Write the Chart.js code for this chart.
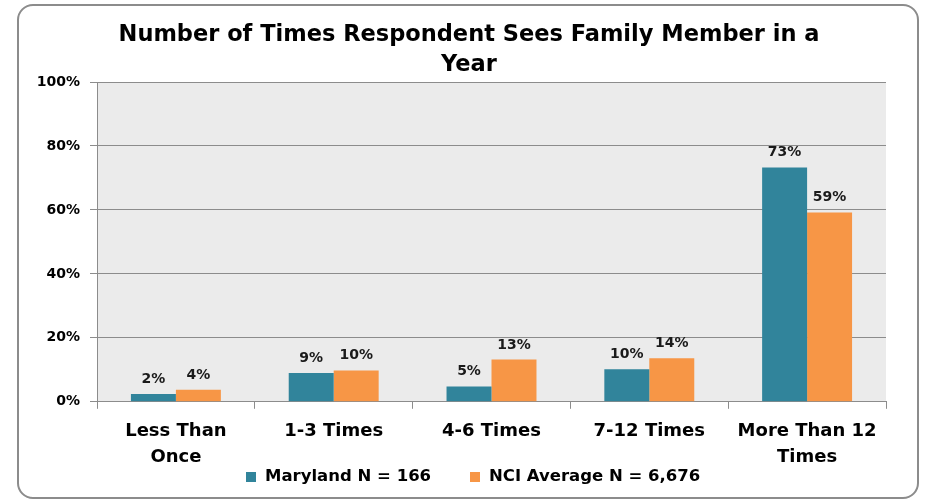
<!DOCTYPE html>
<html>
<head>
<meta charset="utf-8">
<script src="https://cdn.jsdelivr.net/npm/chart.js@4"></script>
<style>
    html, body { margin: 0; padding: 0; background: #fff; }
    body { font-family: 'DejaVu Sans', sans-serif; }
    #frame {
        position: absolute; left: 17px; top: 4px; width: 902px; height: 495px;
        border: 2px solid #8c8c8c; border-radius: 16px; box-sizing: border-box;
    }
    #wrap { position: absolute; left: 0; top: 0; width: 926px; height: 501px; }
    #title {
        position: absolute; left: 18px; top: 18px; width: 902px;
        text-align: center; font-weight: bold; font-size: 22.5px; line-height: 30px; color: #000;
    }
    .legend-item {
        position: absolute; top: 466px; height: 20px; line-height: 20px;
        font-weight: bold; font-size: 16.5px; color: #000; white-space: nowrap;
    }
    .legend-item i {
        display: inline-block; width: 10px; height: 10px; margin-right: 9px; vertical-align: -1px;
    }
</style>
</head>
<body>
<div id="frame"></div>
<div id="wrap"><canvas id="chart" width="926" height="501"></canvas></div>
<div id="title"></div>
<div id="legend"></div>
<script>
const categories = [['Less Than', 'Once'], '1-3 Times', '4-6 Times', '7-12 Times', ['More Than 12', 'Times']];
const marylandValues = [2.4, 9.0, 4.8, 10.2, 73.3];
const nciValues = [3.8, 9.8, 13.2, 13.6, 59.2];
const marylandLabels = ['2%', '9%', '5%', '10%', '73%'];
const nciLabels = ['4%', '10%', '13%', '14%', '59%'];
const seriesNames = ['Maryland N = 166', 'NCI Average N = 6,676'];
const titleLines = ['Number of Times Respondent Sees Family Member in a', 'Year'];

const FONT = "'DejaVu Sans', sans-serif";
const COLORS = ['#31849b', '#f79646'];

// title and legend as html text
document.getElementById('title').innerHTML = titleLines.join('<br>');
const legendLeft = [246, 470];
document.getElementById('legend').innerHTML = seriesNames.map((name, i) =>
    `<div class="legend-item" style="left:${legendLeft[i]}px"><i style="background:${COLORS[i]}"></i>${name}</div>`
).join('');

// grey plot background
const plotBackground = {
    id: 'plotBackground',
    beforeDraw(chart) {
        const { ctx, chartArea: a } = chart;
        ctx.save();
        ctx.fillStyle = '#ebebeb';
        ctx.fillRect(a.left, a.top, a.right - a.left, a.bottom - a.top);
        ctx.restore();
    }
};

// value labels above the bars
const barLabels = {
    id: 'barLabels',
    afterDatasetsDraw(chart) {
        const ctx = chart.ctx;
        const texts = [marylandLabels, nciLabels];
        ctx.save();
        ctx.font = 'bold 14px ' + FONT;
        ctx.fillStyle = '#1a1a1a';
        ctx.textAlign = 'center';
        ctx.textBaseline = 'alphabetic';
        chart.data.datasets.forEach((ds, i) => {
            chart.getDatasetMeta(i).data.forEach((bar, j) => {
                ctx.fillText(texts[i][j], bar.x, bar.y - 11);
            });
        });
        ctx.restore();
    }
};

new Chart(document.getElementById('chart'), {
    type: 'bar',
    data: {
        labels: categories,
        datasets: [
            { label: seriesNames[0], data: marylandValues, backgroundColor: COLORS[0] },
            { label: seriesNames[1], data: nciValues, backgroundColor: COLORS[1] }
        ]
    },
    options: {
        responsive: false,
        animation: false,
        layout: { padding: { top: 82, right: 40, bottom: 22, left: 0 } },
        datasets: { bar: { categoryPercentage: 0.57, barPercentage: 1.0 } },
        plugins: {
            title: { display: false },
            legend: { display: false },
            tooltip: { enabled: false }
        },
        scales: {
            x: {
                grid: { drawOnChartArea: false, drawTicks: true, tickLength: 7, color: '#8c8c8c', offset: true },
                border: { color: '#8c8c8c' },
                ticks: {
                    color: '#000',
                    font: { family: FONT, size: 18, weight: 'bold', lineHeight: 1.45 },
                    padding: 9,
                    maxRotation: 0,
                    autoSkip: false
                }
            },
            y: {
                min: 0,
                max: 100,
                afterFit(scale) { scale.width = 97; },
                grid: { color: '#8c8c8c', tickLength: 7 },
                border: { color: '#8c8c8c' },
                ticks: {
                    stepSize: 20,
                    color: '#000',
                    padding: 10,
                    font: { family: FONT, size: 14, weight: 'bold' },
                    callback: v => v + '%'
                }
            }
        }
    },
    plugins: [plotBackground, barLabels]
});
</script>
</body>
</html>
